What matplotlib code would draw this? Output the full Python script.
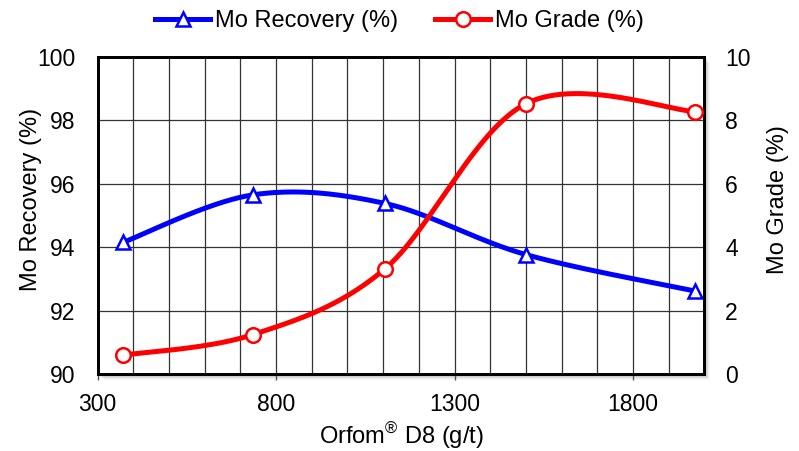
import numpy as np
import matplotlib
matplotlib.use("Agg")
import matplotlib.pyplot as plt
from matplotlib.patches import Rectangle
from matplotlib.lines import Line2D

plt.rcParams['font.family'] = ['Liberation Sans', 'DejaVu Sans']
plt.rcParams['mathtext.fontset'] = 'custom'
plt.rcParams['mathtext.rm'] = 'Liberation Sans'

dosage = [370, 735, 1105, 1500, 1975]
recovery = [94.15, 95.65, 95.38, 93.77, 92.62]
grade = [0.6, 1.25, 3.32, 8.52, 8.27]

x_ticks = [300, 800, 1300, 1800]
x_lim = (300, 2000)
rec_lim = (90, 100)
grade_lim = (0, 10)

BLUE = '#0000FF'
RED = '#FF0000'
TICK_FS = 16.5
LAB_FS = 17

W, H = 799, 451
fig = plt.figure(figsize=(W / 100, H / 100), dpi=100)
L, B, R, T = 97.7 / W, 1 - 374.3 / H, 704.3 / W, 1 - 56.7 / H
ax = fig.add_axes([L, B, R - L, T - B])
ax2 = ax.twinx()

# shadow of plot area
for i, a in enumerate([0.10, 0.08, 0.06, 0.04, 0.03]):
    off = (i + 1) * 1.2
    fig.patches.append(Rectangle((L + off / W, B - off / H), R - L, T - B,
                                 transform=fig.transFigure, facecolor='black',
                                 alpha=a, edgecolor='none', zorder=-10))
ax.set_facecolor('white')
ax.patch.set_zorder(-5)


def smooth(xs, ys, xr, yr, n=60):
    # Catmull-Rom (Excel-like) smoothing in normalized display space
    px = (np.asarray(xs) - xr[0]) / (xr[1] - xr[0]) * (R - L) * W
    py = (np.asarray(ys) - yr[0]) / (yr[1] - yr[0]) * (T - B) * H
    P = np.column_stack([px, py])
    Pe = np.vstack([P[0], P, P[-1]])
    out = []
    for i in range(len(P) - 1):
        p0, p1, p2, p3 = Pe[i], Pe[i + 1], Pe[i + 2], Pe[i + 3]
        c1 = p1 + (p2 - p0) / 6
        c2 = p2 - (p3 - p1) / 6
        t = np.linspace(0, 1, n)[:, None]
        seg = ((1 - t) ** 3) * p1 + 3 * ((1 - t) ** 2) * t * c1 + 3 * (1 - t) * t ** 2 * c2 + t ** 3 * p2
        out.append(seg if i == 0 else seg[1:])
    S = np.vstack(out)
    sx = S[:, 0] / ((R - L) * W) * (xr[1] - xr[0]) + xr[0]
    sy = S[:, 1] / ((T - B) * H) * (yr[1] - yr[0]) + yr[0]
    return sx, sy


sx, sy = smooth(dosage, recovery, x_lim, rec_lim)
ax.plot(sx, sy, color=BLUE, lw=3.6, solid_capstyle='round', zorder=3)
ax.plot(dosage, recovery, ls='none', marker='^', ms=10.5, mfc='white', mec=BLUE, mew=1.8, zorder=4, clip_on=False)

gx, gy = smooth(dosage, grade, x_lim, grade_lim)
ax2.plot(gx, gy, color=RED, lw=3.6, solid_capstyle='round', zorder=3)
ax2.plot(dosage, grade, ls='none', marker='o', ms=10.5, mfc='white', mec=RED, mew=1.8, zorder=4, clip_on=False)

ax.set_xlim(*x_lim)
ax.set_ylim(*rec_lim)
ax2.set_ylim(*grade_lim)
ax.set_xticks(x_ticks)
ax.set_xticks(np.arange(300, 2001, 100), minor=True)
ax.set_yticks(np.arange(90, 100.1, 2))
ax2.set_yticks(np.arange(0, 10.1, 2))

ax.grid(True, which='both', axis='x', color='#333333', lw=0.9)
ax.grid(True, which='major', axis='y', color='#333333', lw=0.9)
ax.set_axisbelow(True)

ax.tick_params(axis='x', which='major', direction='out', length=4.5, width=1,
               labelsize=TICK_FS, pad=9, color='#555555')
ax.tick_params(axis='x', which='minor', length=0)
ax.tick_params(axis='y', length=0, labelsize=TICK_FS, pad=16)
ax2.tick_params(axis='y', length=0, labelsize=TICK_FS, pad=15)

for a in (ax, ax2):
    for s in a.spines.values():
        s.set_linewidth(2)
        s.set_color('black')

ax.set_xlabel('Orfom$^{\\mathregular{\u00ae}}$ D8 (g/t)', fontsize=LAB_FS, labelpad=3)
ax.set_ylabel('Mo Recovery (%)', fontsize=LAB_FS)
ax2.set_ylabel('Mo Grade (%)', fontsize=LAB_FS)
ax.yaxis.set_label_coords(-0.092, 0.55)
ax2.yaxis.set_label_coords(1.103, 0.55)

h1 = Line2D([], [], color=BLUE, lw=3.6, marker='^', ms=10.5, mfc='white', mec=BLUE, mew=1.8)
h2 = Line2D([], [], color=RED, lw=3.6, marker='o', ms=10.5, mfc='white', mec=RED, mew=1.8)
fig.legend([h1, h2], ['Mo Recovery (%)', 'Mo Grade (%)'], loc='upper center',
           bbox_to_anchor=(0.5, 1.024), ncol=2, frameon=False, fontsize=LAB_FS,
           handlelength=2.33, handletextpad=0.2, columnspacing=1.57, markerscale=1.0)

fig.savefig('out.png', dpi=100)
